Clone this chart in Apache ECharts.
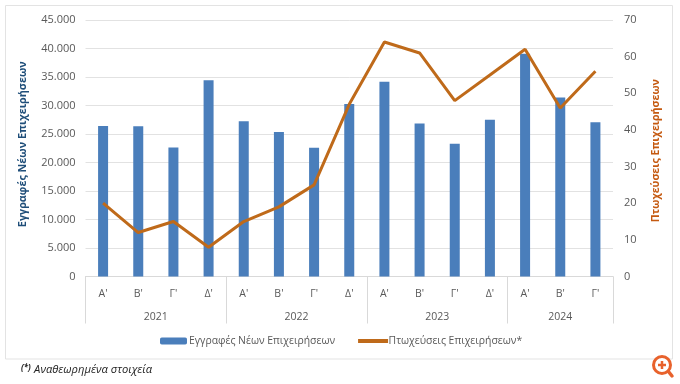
<!DOCTYPE html>
<html>
<head>
<meta charset="utf-8">
<style>html,body{margin:0;padding:0;background:#fff}#main{width:680px;height:384px}</style>
<script src="https://cdn.jsdelivr.net/npm/echarts@6/dist/echarts.min.js"></script>
</head>
<body>
<div id="main"></div>
<script>
const quarters = ["Α'", "Β'", "Γ'", "Δ'", "Α'", "Β'", "Γ'", "Δ'", "Α'", "Β'", "Γ'", "Δ'", "Α'", "Β'", "Γ'"];
const registrations = [26400, 26350, 22650, 34450, 27250, 25350, 22600, 30250, 34150, 26850, 23300, 27500, 39100, 31400, 27050];
const bankruptcies = [20, 12, 15, 8, 15, 19, 25, 47, 64, 61, 48, 55, 62, 46, 56];
const years = ['2021', '2022', '2023', '2024'];
const yearCentres = [2, 6, 10, 13.5];
const yearEdges = [0, 4, 8, 12, 15];

const fontFamily = '"Open Sans", "Noto Sans", sans-serif';
const textColor = '#595959';
const lineColor = '#BF6A1A';

const chart = echarts.init(document.getElementById('main'), null, { renderer: 'canvas' });
chart.setOption({
    animation: false,
    backgroundColor: '#fff',
    textStyle: { fontFamily: fontFamily },
    grid: { left: 85.5, right: 67, top: 20, height: 256.5 },
    legend: {
        left: 155,
        top: 331,
        itemWidth: 27,
        itemHeight: 7,
        itemGap: 23,
        textStyle: { fontSize: 10.4, color: textColor, padding: [0, 0, 0, -3] },
        data: [
            { name: 'Εγγραφές Νέων Επιχειρήσεων' },
            { name: 'Πτωχεύσεις Επιχειρήσεων*', icon: 'path://M0,3 L27,3 L27,4 L0,4 Z', itemStyle: { borderWidth: 3, borderColor: lineColor } }
        ]
    },
    xAxis: [
        {
            type: 'category',
            data: quarters,
            axisLine: { lineStyle: { color: '#D9D9D9' } },
            axisTick: { show: false },
            axisLabel: { color: textColor, fontSize: 10.5, margin: 12, interval: 0 }
        },
        {
            type: 'value',
            min: 0,
            max: 15,
            position: 'bottom',
            splitLine: { show: false },
            axisLine: { show: false },
            axisTick: {
                show: true,
                length: 47,
                customValues: yearEdges,
                lineStyle: { color: '#D9D9D9' }
            },
            axisLabel: {
                color: textColor,
                fontSize: 10.5,
                margin: 35,
                customValues: yearCentres,
                formatter: (v) => years[yearCentres.indexOf(v)]
            }
        }
    ],
    yAxis: [
        {
            type: 'value',
            min: 0,
            max: 45000,
            interval: 5000,
            name: 'Εγγραφές Νέων Επιχειρήσεων',
            nameLocation: 'middle',
            nameGap: 57,
            nameTextStyle: { color: '#1F4E79', fontWeight: 'bold', fontSize: 10.8, padding: [0, 0, 0, 8] },
            axisLine: { show: false },
            axisTick: { show: false },
            splitLine: { lineStyle: { color: '#E2E2E2' } },
            axisLabel: {
                color: textColor,
                fontSize: 11,
                margin: 10,
                formatter: (v) => String(v).replace(/\B(?=(\d{3})+$)/g, '.')
            }
        },
        {
            type: 'value',
            min: 0,
            max: 70,
            interval: 10,
            name: 'Πτωχεύσεις Επιχειρήσεων',
            nameLocation: 'middle',
            nameGap: 37,
            nameTextStyle: { color: '#C55A11', fontWeight: 'bold', fontSize: 10.6, padding: [0, 5, 0, 0] },
            axisLine: { show: false },
            axisTick: { show: false },
            splitLine: { show: false },
            axisLabel: { color: textColor, fontSize: 11, margin: 11 }
        }
    ],
    series: [
        {
            name: 'Εγγραφές Νέων Επιχειρήσεων',
            type: 'bar',
            barWidth: 10,
            itemStyle: { color: '#4A7EBB' },
            data: registrations
        },
        {
            name: 'Πτωχεύσεις Επιχειρήσεων*',
            type: 'line',
            yAxisIndex: 1,
            symbol: 'none',
            itemStyle: { color: lineColor },
            lineStyle: { color: lineColor, width: 3 },
            data: bankruptcies
        }
    ],
    graphic: [
        {
            type: 'rect',
            z: -1,
            shape: { x: 5.5, y: 5.5, width: 667, height: 353.5 },
            style: { fill: '#fff', stroke: '#E3E3E3', lineWidth: 1 }
        },
        {
            type: 'text',
            left: 21,
            top: 364,
            style: {
                text: '{a|(*)} {b|Αναθεωρημένα στοιχεία}',
                rich: {
                    a: { fontSize: 8, fontWeight: 'bold', fontStyle: 'italic', fill: '#222', verticalAlign: 'top', fontFamily: fontFamily },
                    b: { fontSize: 11.2, fontStyle: 'italic', fill: '#222', fontFamily: fontFamily }
                }
            }
        },
        // zoom magnifier in the corner of the page
        {
            type: 'group',
            left: 652,
            top: 355,
            children: [
                { type: 'line', shape: { x1: 17, y1: 17, x2: 21, y2: 22 }, style: { stroke: '#E8622C', lineWidth: 3.5, lineCap: 'round' } },
                { type: 'circle', shape: { cx: 11, cy: 11, r: 8.5 }, style: { fill: '#fff', stroke: '#E8622C', lineWidth: 3 } },
                { type: 'line', shape: { x1: 7, y1: 11, x2: 15, y2: 11 }, style: { stroke: '#E8622C', lineWidth: 2.5 } },
                { type: 'line', shape: { x1: 11, y1: 7, x2: 11, y2: 15 }, style: { stroke: '#E8622C', lineWidth: 2.5 } }
            ]
        }
    ]
});
</script>
</body>
</html>
